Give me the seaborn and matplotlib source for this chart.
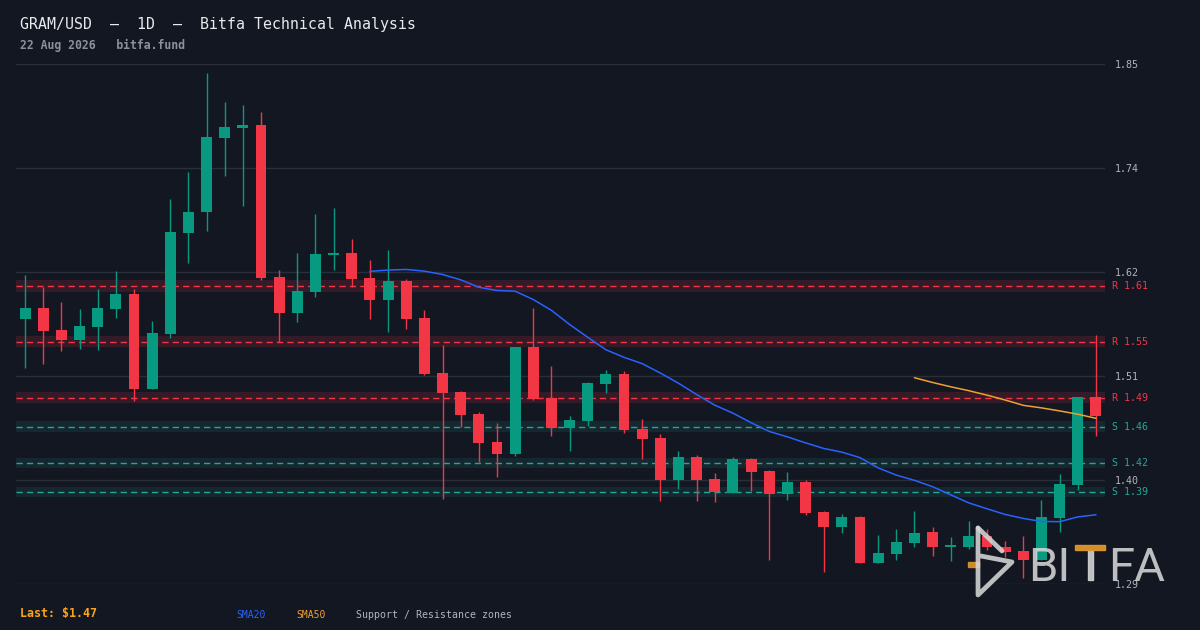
import numpy as np
import pandas as pd
import matplotlib.pyplot as plt
import seaborn as sns
from matplotlib.lines import Line2D
from matplotlib.patches import Rectangle
from matplotlib.ticker import FormatStrFormatter
import matplotlib.transforms as mtransforms

BG = "#131722"
GRID = "#2a2e39"
UP = "#089981"
DOWN = "#f23645"
SUP = "#26a69a"
SMA20_C = "#2962ff"
SMA50_C = "#f0a030"
TXT = "#b2b5be"

opens = [1.5747, 1.5861, 1.5626, 1.5522, 1.5661, 1.5853, 1.6010, 1.4999, 1.5586, 1.6664,
         1.6889, 1.7678, 1.7785, 1.7814, 1.6192, 1.5811, 1.6035, 1.6430, 1.6448, 1.6181,
         1.5949, 1.6149, 1.5754, 1.5167, 1.4964, 1.4729, 1.4431, 1.4306, 1.5445, 1.4900,
         1.4583, 1.4658, 1.5053, 1.5156, 1.4569, 1.4473, 1.4028, 1.4271, 1.4036, 1.3889,
         1.4249, 1.4121, 1.3879, 1.4004, 1.3683, 1.3527, 1.3630, 1.3142, 1.3238, 1.3356,
         1.3470, 1.3313, 1.3313, 1.3431, 1.3307, 1.3267, 1.3171, 1.3623, 1.3975, 1.4911]
highs = [1.6213, 1.6088, 1.5925, 1.5850, 1.6064, 1.6256, 1.6064, 1.5722, 1.7024, 1.7312,
         1.8369, 1.8059, 1.8027, 1.7953, 1.6266, 1.6448, 1.6864, 1.6928, 1.6597, 1.6373,
         1.6480, 1.6170, 1.5839, 1.5466, 1.4975, 1.4751, 1.4633, 1.5445, 1.5861, 1.5242,
         1.4708, 1.5071, 1.5199, 1.5188, 1.4676, 1.4516, 1.4335, 1.4292, 1.4100, 1.4271,
         1.4260, 1.4132, 1.4110, 1.4025, 1.3697, 1.3665, 1.3641, 1.3441, 1.3502, 1.3697,
         1.3523, 1.3417, 1.3587, 1.3502, 1.3374, 1.3427, 1.3812, 1.4089, 1.4911, 1.5573]
lows = [1.5224, 1.5266, 1.5405, 1.5426, 1.5416, 1.5757, 1.4871, 1.4999, 1.5544, 1.6344,
        1.6686, 1.7273, 1.6953, 1.6163, 1.5501, 1.5715, 1.5981, 1.6270, 1.6088, 1.5747,
        1.5608, 1.5640, 1.5149, 1.3825, 1.4594, 1.4220, 1.4060, 1.4284, 1.4882, 1.4498,
        1.4338, 1.4605, 1.4957, 1.4530, 1.4252, 1.3804, 1.3932, 1.3804, 1.3793, 1.3889,
        1.3911, 1.3174, 1.3815, 1.3655, 1.3046, 1.3463, 1.3142, 1.3142, 1.3174, 1.3313,
        1.3217, 1.3164, 1.3284, 1.3278, 1.3206, 1.2976, 1.3171, 1.3473, 1.3922, 1.4498]
closes = [1.5861, 1.5619, 1.5522, 1.5669, 1.5861, 1.6010, 1.4999, 1.5594, 1.6672, 1.6885,
          1.7686, 1.7793, 1.7814, 1.6184, 1.5811, 1.6042, 1.6437, 1.6448, 1.6173, 1.5949,
          1.6149, 1.5747, 1.5160, 1.4957, 1.4722, 1.4423, 1.4306, 1.5445, 1.4893, 1.4583,
          1.4665, 1.5060, 1.5156, 1.4562, 1.4466, 1.4028, 1.4271, 1.4028, 1.3900, 1.4249,
          1.4114, 1.3879, 1.4004, 1.3676, 1.3527, 1.3630, 1.3142, 1.3246, 1.3363, 1.3459,
          1.3313, 1.3320, 1.3431, 1.3307, 1.3260, 1.3171, 1.3633, 1.3982, 1.4911, 1.4711]

res_levels = [1.6092, 1.5502, 1.4902]
sup_levels = [1.4592, 1.4207, 1.3897]

Y_LO, Y_HI = 1.2915, 1.8465

df = pd.DataFrame({"open": opens, "high": highs, "low": lows, "close": closes})
df["idx"] = np.arange(len(df))
df["sma20"] = df["close"].rolling(20).mean()
df["sma50"] = df["close"].rolling(50).mean()
df["up"] = df["close"] >= df["open"]

sns.set_theme(style="dark", rc={"axes.facecolor": BG, "figure.facecolor": BG})
plt.rcParams["font.family"] = ["DejaVu Sans Mono", "DejaVu Sans"]

fig = plt.figure(figsize=(12, 6.3), dpi=100)
ax = fig.add_axes([16 / 1200, 1 - 584 / 630, 1089 / 1200, 520 / 630])
ax.set_facecolor(BG)

# support / resistance zones
for lv in res_levels:
    ax.axhspan(lv * 0.996, lv * 1.004, color=DOWN, alpha=0.15, lw=0, zorder=0)
    ax.axhline(lv, color=DOWN, lw=1.0, dashes=(4.5, 3), zorder=1)
for lv in sup_levels:
    ax.axhspan(lv * 0.996, lv * 1.004, color=SUP, alpha=0.12, lw=0, zorder=0)
    ax.axhline(lv, color=SUP, lw=1.0, dashes=(4.5, 3), zorder=1)

# candles
colors = np.where(df["up"], UP, DOWN)
ax.vlines(df["idx"], df["low"], df["high"], colors=colors, lw=1.0, zorder=2)
body_lo = np.minimum(df["open"], df["close"])
body_h = np.maximum(np.abs(df["close"] - df["open"]), 0.0018)
ax.bar(df["idx"], body_h, bottom=body_lo, width=0.6, color=colors, lw=0, zorder=3)

# moving averages
sns.lineplot(data=df, x="idx", y="sma20", color=SMA20_C, lw=1.1, ax=ax, zorder=4)
sns.lineplot(data=df, x="idx", y="sma50", color=SMA50_C, lw=1.1, ax=ax, zorder=4)

ax.set_xlim(-0.5, len(df) - 0.5)
ax.set_ylim(Y_LO, Y_HI)
ax.set_yticks(np.linspace(Y_LO, Y_HI, 6))
ax.yaxis.set_major_formatter(FormatStrFormatter("%.2f"))
ax.yaxis.tick_right()
ax.tick_params(axis="y", length=0, pad=7, labelsize=7.2, labelcolor=TXT)
ax.set_xticks([])
ax.set_xlabel("")
ax.set_ylabel("")
ax.grid(axis="y", color=GRID, lw=1.0)
ax.grid(axis="x", visible=False)
for s in ax.spines.values():
    s.set_visible(False)

# zone labels on the right
trans = mtransforms.blended_transform_factory(ax.transAxes, ax.transData)
lx = 1 + 7 / 1089
for lv in res_levels:
    ax.text(lx, lv, f"R {lv:.2f}", color=DOWN, fontsize=7.2, va="center", ha="left",
            transform=trans, clip_on=False)
for lv in sup_levels:
    ax.text(lx, lv, f"S {lv:.2f}", color=SUP, fontsize=7.2, va="center", ha="left",
            transform=trans, clip_on=False)

# header
fig.text(20 / 1200, 1 - 24 / 630, "GRAM/USD  \u2013  1D  \u2013  Bitfa Technical Analysis",
         color="#e8eaed", fontsize=10.7, va="center", ha="left")
fig.text(20 / 1200, 1 - 45 / 630, "22 Aug 2026   bitfa.fund", color="#8d919c",
         fontsize=8.3, fontweight="bold", va="center", ha="left")

# footer legend
fig.text(20 / 1200, 1 - 613 / 630, f"Last: ${closes[-1]:.2f}", color="#f7a51c",
         fontsize=8.4, fontweight="bold", va="center", ha="left")
fig.text(236 / 1200, 1 - 615 / 630, "SMA20", color=SMA20_C, fontsize=7, va="center", ha="left")
fig.text(296 / 1200, 1 - 615 / 630, "SMA50", color=SMA50_C, fontsize=7, va="center", ha="left")
fig.text(356 / 1200, 1 - 615 / 630, "Support / Resistance zones", color=TXT, fontsize=7.1,
         va="center", ha="left")


# watermark logo (pixel positions from the top-left corner)
def px(x, y):
    return x / 1200, 1 - y / 630


LOGO = "#d6d6d6"
ORANGE = "#e0962a"
icon = [[(978, 528), (978, 595), (1012, 562), (981, 556)], [(978, 528), (1002, 551)]]
for path in icon:
    xs, ys = zip(*[px(x, y) for x, y in path])
    fig.add_artist(Line2D(xs, ys, color=LOGO, lw=3.4, alpha=0.88,
                          solid_joinstyle="round", solid_capstyle="round"))
ox, oy = px(968, 567)
fig.add_artist(Rectangle((ox, oy), 11 / 1200, 5 / 630, color=ORANGE, alpha=0.9))

x0, y0 = px(1028, 581)
fig.text(x0, y0, "BI", color=LOGO, alpha=0.88, fontsize=34, family="Roboto",
         ha="left", va="baseline")
x0, y0 = px(1108, 581)
fig.text(x0, y0, "FA", color=LOGO, alpha=0.88, fontsize=34, family="Roboto",
         ha="left", va="baseline")
# the T of the wordmark: orange bar, grey stem
sx, sy = px(1088, 580)
fig.add_artist(Rectangle((sx, sy), 5 / 1200, 30 / 630, color=LOGO, alpha=0.88))
rx, ry = px(1075, 550)
fig.add_artist(Rectangle((rx, ry), 30 / 1200, 5 / 630, color=ORANGE, alpha=0.95))

fig.savefig("out.png", dpi=100, facecolor=BG)
plt.close(fig)
